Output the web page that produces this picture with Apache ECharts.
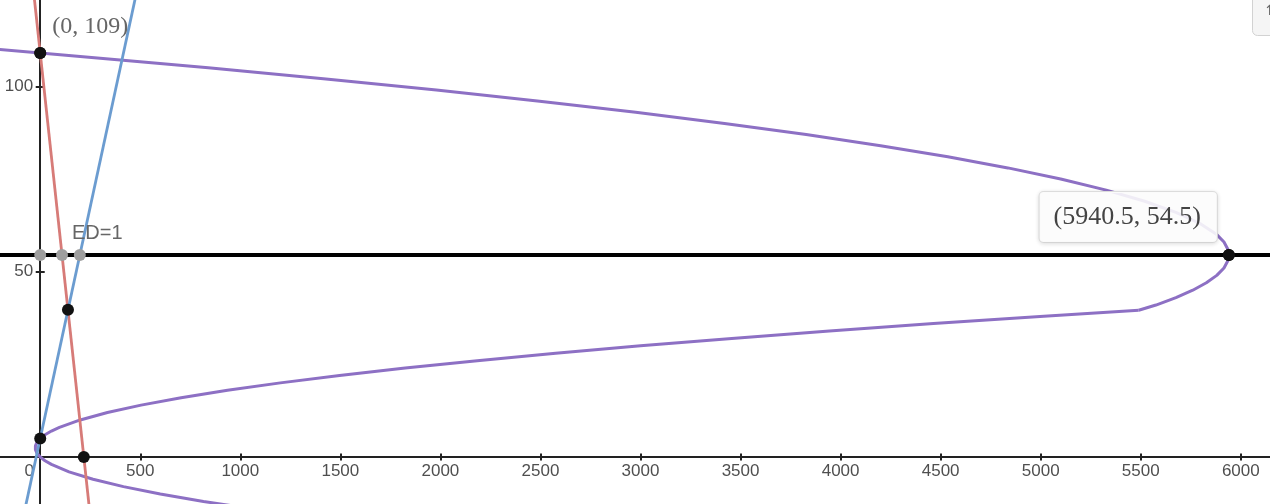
<!DOCTYPE html>
<html>
<head>
<meta charset="utf-8">
<script src="https://cdn.jsdelivr.net/npm/echarts@6/dist/echarts.min.js"></script>
<style>
html,body{margin:0;padding:0;background:#fff;}
#c{width:1270px;height:504px;}
</style>
</head>
<body>
<div id="c"></div>
<script>
// ---- data ----
const xTickValues = [500,1000,1500,2000,2500,3000,3500,4000,4500,5000,5500,6000];
const xLabelValues = [0,500,1000,1500,2000,2500,3000,3500,4000,4500,5000,5500,6000];
const yTickValues = [50,100];
const yLabelValues = [50,100];

// purple curve, upper branch [x, y]
const purpleUpper = [
  [-331.5,110.5],[-220,110],[0,109],[428,107],[840,105],[1428,102],[1980,99],
  [2496,96],[2976,93],[3420,90],[3828,87],[4200,84],[4536,81],[4836,78],
  [5100,75],[5328,72],[5520,69],[5676,66],[5796,63],[5880,60],[5916,58],
  [5936,56],[5940.5,54.5],[5936,53],[5916,51],[5880,49],[5828,47],[5760,45],
  [5676,43],[5576,41],[5490,39.6]
];
// purple curve, lower branch [x, y]
const purpleLower = [
  [5490,39.6],[5016,38],[4464,36],[3944,34],[3456,32],[3000,30],[2576,28],
  [2184,26],[1824,24],[1496,22],[1200,20],[936,18],[704,16],[504,14],[336,12],
  [200,10],[96,8],[56,7],[24,6],[0,5],[-16,4],[-24,3],[-25,2.5],[-24,2],
  [-16,1],[0,0],[24,-1],[56,-2],[144,-4],[264,-6],[416,-8],[600,-10],
  [816,-12],[1064,-14]
];
const redLine = [[-30,124],[250,-16]];
const blueLine = [[-80,-15],[520,135]];
const hLineY = 54.5;
const blackPoints = [[0,109],[5940.5,54.5],[138.7,39.7],[218,0],[0,5]];
const grayPoints = [[0,54.5],[109,54.5],[198,54.5]];
const labelTop = '(0, 109)';
const labelVertex = '(5940.5, 54.5)';
const labelED = 'ED=1';

const X_MIN = -201, X_MAX = 6146, Y_MIN = -12.68, Y_MAX = 123.3;
const AXIS_COLOR = '#222';
const SANS = 'Liberation Sans, Arial, sans-serif';
const SERIF = 'Liberation Serif, Times New Roman, serif';

const chart = echarts.init(document.getElementById('c'), null, {renderer:'canvas'});

function tickAxisX(inside, lineColor){
  return {
    type:'value', min:X_MIN, max:X_MAX, position:'bottom',
    splitLine:{show:false},
    axisLine:{show:true, onZero:true, onZeroAxisIndex:0, lineStyle:{color:lineColor, width:2}},
    axisTick:{show:true, inside:inside, length:3.5, customValues:xTickValues, lineStyle:{color:AXIS_COLOR, width:2}},
    axisLabel:{show:false}
  };
}
function tickAxisY(inside, lineColor){
  return {
    type:'value', min:Y_MIN, max:Y_MAX, position:'left',
    splitLine:{show:false},
    axisLine:{show:true, onZero:true, onZeroAxisIndex:0, lineStyle:{color:lineColor, width:2}},
    axisTick:{show:true, inside:inside, length:4.5, customValues:yTickValues, lineStyle:{color:AXIS_COLOR, width:2}},
    axisLabel:{show:false}
  };
}

const option = {
  animation: false,
  backgroundColor: '#fff',
  grid: {left:0, right:0, top:0, bottom:0, containLabel:false, outerBoundsMode:'none'},
  xAxis: [ tickAxisX(false, AXIS_COLOR), tickAxisX(true, 'rgba(0,0,0,0)') ],
  yAxis: [ tickAxisY(false, AXIS_COLOR), tickAxisY(true, 'rgba(0,0,0,0)') ],
  series: [
    {
      type:'line', name:'upper', data:purpleUpper, showSymbol:false, symbol:'none',
      smooth:false, z:3,
      lineStyle:{color:'#8d70c4', width:3}
    },
    {
      type:'line', name:'lower', data:purpleLower, showSymbol:false, symbol:'none',
      smooth:false, z:3,
      lineStyle:{color:'#8d70c4', width:3}
    },
    {
      type:'line', name:'demand', data:redLine, showSymbol:false, symbol:'none', z:3,
      lineStyle:{color:'#d77b78', width:2.8}
    },
    {
      type:'line', name:'supply', data:blueLine, showSymbol:false, symbol:'none', z:3,
      lineStyle:{color:'#6b9cd0', width:2.8}
    },
    {
      type:'line', name:'hline', data:[], z:4,
      markLine:{
        silent:true, symbol:['none','none'], label:{show:false},
        lineStyle:{color:'#000', width:4, type:'solid'},
        data:[{yAxis:hLineY}]
      }
    },
    {
      type:'scatter', name:'xTickLabels', z:2, symbolSize:0, silent:true,
      data:xLabelValues.map(function(v){ return [v, 0]; }),
      label:{
        show:true, position:'bottom', distance:6,
        formatter:function(p){ return String(p.value[0]); },
        color:'#222', fontFamily:SANS, fontSize:17
      },
      labelLayout:function(params){
        return params.dataIndex === 0 ? {dx:-11} : {};
      }
    },
    {
      type:'scatter', name:'yTickLabels', z:2, symbolSize:0, silent:true,
      data:yLabelValues.map(function(v){ return [0, v]; }),
      label:{
        show:true, position:'left', distance:7,
        formatter:function(p){ return String(p.value[1]); },
        color:'#222', fontFamily:SANS, fontSize:17
      }
    },
    {
      type:'scatter', name:'gray', data:grayPoints, symbol:'circle', symbolSize:12, z:6,
      itemStyle:{color:'#9e9e9e', opacity:1},
      label:{
        show:true,
        formatter:function(p){ return p.dataIndex === 1 ? labelED : ''; },
        position:'right', distance:4, offset:[0,-22],
        color:'#666', fontFamily:SANS, fontSize:20
      }
    },
    {
      type:'scatter', name:'black', data:blackPoints, symbol:'circle', symbolSize:12, z:7,
      itemStyle:{color:'#111', opacity:1},
      label:{show:false}
    },
    {
      type:'scatter', name:'labels', z:8, symbolSize:12,
      itemStyle:{color:'#111', opacity:1},
      data:[
        {value:blackPoints[0], label:{
          show:true, formatter:labelTop, position:'right', distance:6, offset:[0,-26],
          color:'#666', fontFamily:SERIF, fontSize:24
        }},
        {value:blackPoints[1], label:{
          show:true, formatter:labelVertex, position:'left', distance:6, offset:[0,-38],
          color:'#444', fontFamily:SERIF, fontSize:26,
          backgroundColor:'rgba(255,255,255,0.88)', borderColor:'#e2e2e2', borderWidth:1, borderRadius:4,
          padding:[12,16,12,14], shadowBlur:4, shadowColor:'rgba(0,0,0,0.12)', shadowOffsetY:1
        }}
      ]
    }
  ],
  graphic:[
    {type:'rect', right:-6, top:-6, z:100, shape:{width:23, height:41, r:5},
     style:{fill:'#f5f5f5', stroke:'#d2d2d2', lineWidth:1}},
    {type:'text', left:1264, top:4, z:101,
     style:{text:'↑', fill:'#666', font:'14px "DejaVu Sans", sans-serif'}}
  ]
};
chart.setOption(option);
</script>
</body>
</html>
